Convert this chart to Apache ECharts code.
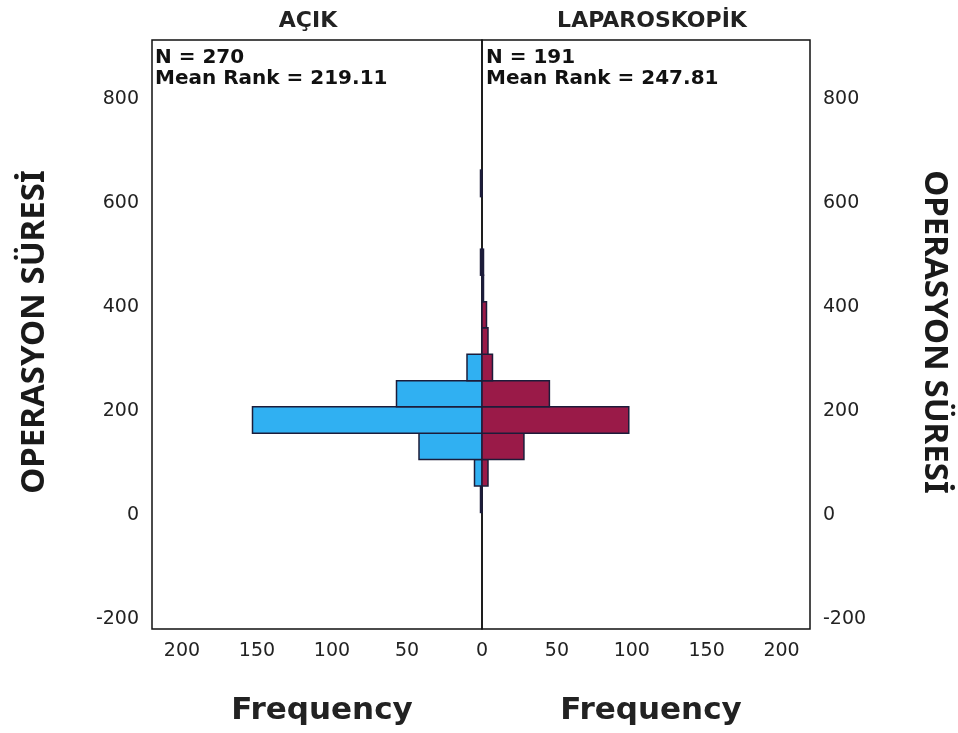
<!DOCTYPE html>
<html>
<head>
<meta charset="utf-8">
<title>Operasyon Süresi</title>
<script src="https://cdn.jsdelivr.net/npm/echarts@6/dist/echarts.min.js"></script>
<style>
  html, body { margin: 0; padding: 0; background: #fff; }
  #main { width: 958px; height: 733px; }
</style>
</head>
<body>
<div id="main"></div>
<script>
// bin edges (operasyon süresi)
var binStarts = [5, 56, 107, 157, 208, 258, 309, 360, 410, 461, 511, 562, 612];
var binEnds   = [56, 107, 157, 208, 258, 309, 360, 410, 461, 511, 562, 612, 663];
// frequencies per bin
var acikCounts  = [1, 5, 42, 153, 57, 10, 0, 0, 0, 1, 0, 0, 1];
var laparoCounts = [0, 4, 28, 98, 45, 7, 4, 3, 1, 1, 0, 0, 0];
var yTicks = [-200, 0, 200, 400, 600, 800];
var xTicks = [0, 50, 100, 150, 200];

var groupNames = ['AÇIK', 'LAPAROSKOPİK'];
var nTexts = ['N = 270', 'N = 191'];
var rankTexts = ['Mean Rank = 219.11', 'Mean Rank = 247.81'];

function toItems(counts) {
	var out = [];
	for (var i = 0; i < counts.length; i++) {
		if (counts[i] > 0) {
			out.push([binStarts[i], binEnds[i], counts[i]]);
		}
	}
	return out;
}

function histRender(params, api) {
	var lo = api.value(0), hi = api.value(1), cnt = api.value(2);
	var p1 = api.coord([0, lo]);
	var p2 = api.coord([cnt, hi]);
	return {
		type: 'rect',
		shape: {
			x: Math.min(p1[0], p2[0]),
			y: Math.min(p1[1], p2[1]),
			width: Math.abs(p2[0] - p1[0]),
			height: Math.abs(p2[1] - p1[1])
		},
		style: api.style()
	};
}

var font = 'DejaVu Sans';
var tickLabel = { fontFamily: font, fontSize: 19, color: '#222' };

function yAxisCfg(gridIndex, pos) {
	return {
		type: 'value', gridIndex: gridIndex, position: pos,
		min: -219, max: 913, splitNumber: 5,
		axisLine: { show: false }, axisTick: { show: false }, splitLine: { show: false },
		axisLabel: Object.assign({ margin: 13, showMinLabel: false, showMaxLabel: false,
			formatter: function (v) { return yTicks.indexOf(v) >= 0 ? String(v) : ''; } }, tickLabel)
	};
}

function xAxisCfg(gridIndex, inverse, max) {
	return {
		type: 'value', gridIndex: gridIndex, inverse: inverse,
		min: 0, max: max, interval: 50,
		axisLine: { show: false }, axisTick: { show: false }, splitLine: { show: false },
		axisLabel: Object.assign({ margin: 13, showMaxLabel: false, showMinLabel: !inverse,
			formatter: function (v) { return xTicks.indexOf(v) >= 0 ? String(v) : ''; } }, tickLabel)
	};
}

var chart = echarts.init(document.getElementById('main'));

var option = {
	animation: false,
	backgroundColor: '#fff',
	grid: [
		{ left: 152, top: 40, width: 330, height: 589, show: true, borderColor: '#111', borderWidth: 1.5 },
		{ left: 482, top: 40, width: 328, height: 589, show: true, borderColor: '#111', borderWidth: 1.5 }
	],
	xAxis: [ xAxisCfg(0, true, 220), xAxisCfg(1, false, 219) ],
	yAxis: [ yAxisCfg(0, 'left'), yAxisCfg(1, 'right') ],
	title: [
		{ text: groupNames[0], left: 303, top: 5, textAlign: 'center',
		  textStyle: { fontFamily: font, fontSize: 22, fontWeight: 'bold', color: '#222' } },
		{ text: groupNames[1], left: 647, top: 5, textAlign: 'center',
		  textStyle: { fontFamily: font, fontSize: 22, fontWeight: 'bold', color: '#222' } },
		{ text: 'Frequency', left: 317, top: 690, textAlign: 'center',
		  textStyle: { fontFamily: font, fontSize: 31, fontWeight: 'bold', color: '#222' } },
		{ text: 'Frequency', left: 646, top: 690, textAlign: 'center',
		  textStyle: { fontFamily: font, fontSize: 31, fontWeight: 'bold', color: '#222' } }
	],
	graphic: [
		{ type: 'text', x: 155, y: 47, style: { text: nTexts[0] + '\n' + rankTexts[0],
			font: 'bold 20px "DejaVu Sans"', fill: '#111', lineHeight: 21 } },
		{ type: 'text', x: 486, y: 47, style: { text: nTexts[1] + '\n' + rankTexts[1],
			font: 'bold 20px "DejaVu Sans"', fill: '#111', lineHeight: 21 } },
		{ type: 'text', x: 35, y: 332, rotation: Math.PI / 2,
		  style: { text: 'OPERASYON SÜRESİ', font: 'bold 33px "Noto Sans"', fill: '#1a1a1a',
			align: 'center', verticalAlign: 'middle' } },
		{ type: 'text', x: 934, y: 332, rotation: -Math.PI / 2,
		  style: { text: 'OPERASYON SÜRESİ', font: 'bold 33px "Noto Sans"', fill: '#1a1a1a',
			align: 'center', verticalAlign: 'middle' } }
	],
	series: [
		{
			name: groupNames[0], type: 'custom', xAxisIndex: 0, yAxisIndex: 0,
			renderItem: histRender,
			itemStyle: { color: '#30b0f2', borderColor: '#1c1c3a', borderWidth: 1.5 },
			encode: { x: 2, y: [0, 1] },
			data: toItems(acikCounts)
		},
		{
			name: groupNames[1], type: 'custom', xAxisIndex: 1, yAxisIndex: 1,
			renderItem: histRender,
			itemStyle: { color: '#9a1a48', borderColor: '#1c1c3a', borderWidth: 1.5 },
			encode: { x: 2, y: [0, 1] },
			data: toItems(laparoCounts)
		}
	]
};

chart.setOption(option);
</script>
</body>
</html>
